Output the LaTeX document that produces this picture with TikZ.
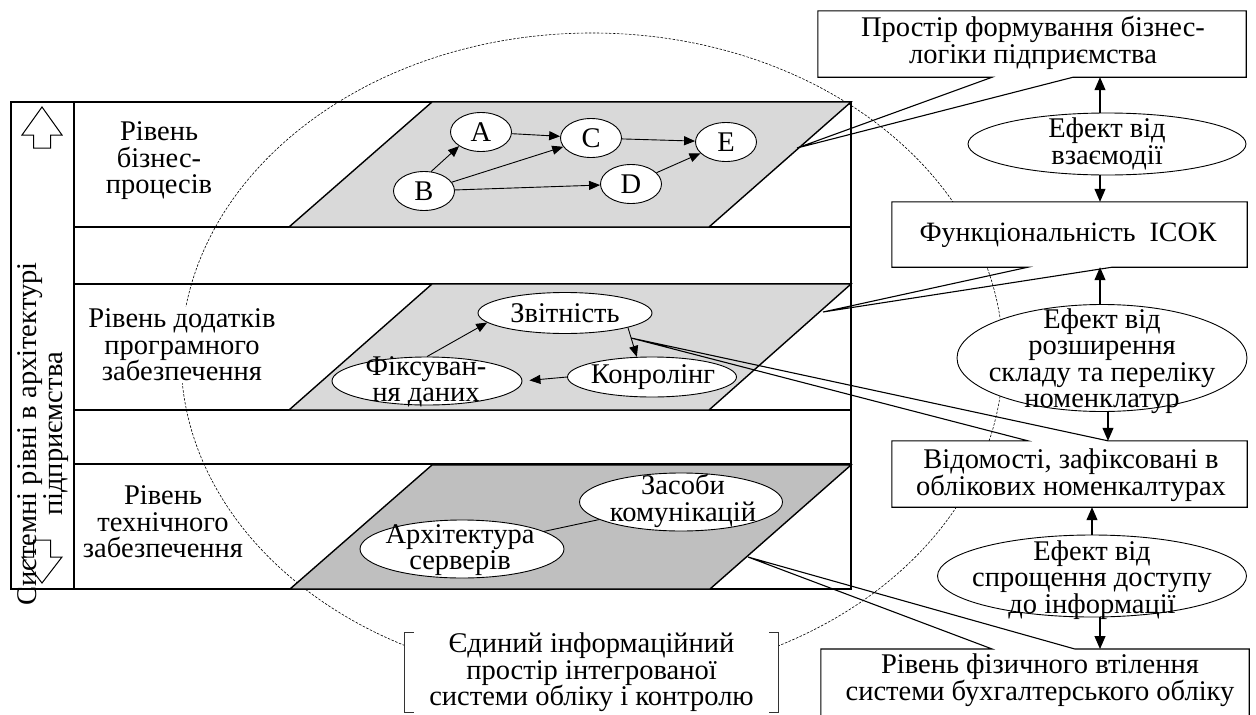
\documentclass[tikz,border=0pt]{standalone}
\usepackage{fontspec}
\setmainfont{Liberation Serif}
\usetikzlibrary{arrows.meta,shapes.geometric,calc}
\definecolor{planeL}{gray}{0.85}
\definecolor{planeD}{gray}{0.75}
\begin{document}
\begin{tikzpicture}[x=1pt,y=-1pt,
  txt/.style={font=\fontsize{28.5}{26.5}\selectfont, align=center, inner sep=0pt},
  frameline/.style={line width=1.4pt},
  plane/.style={draw, line width=1.4pt, line join=miter},
  ell/.style={draw, ellipse, fill=white, line width=0.9pt, inner sep=0pt},
  sm/.style={ell, minimum width=61pt, minimum height=39pt, font=\fontsize{28.5}{26.5}\selectfont},
  arr/.style={-{Triangle[length=11pt,width=9pt]}, line width=0.9pt},
  rarr/.style={-{Triangle[length=13pt,width=11pt]}, line width=1.1pt},
  boxfill/.style={fill=white, draw=none, inner sep=0pt},
  boxline/.style={line width=1.1pt, line join=miter},
  circ/.style={dash pattern=on 2.5pt off 1.5pt, line width=0.6pt},
  blockarrow/.style={draw, fill=white, line width=1pt},
  brack/.style={line width=0.9pt, draw=black!80},
]
\useasboundingbox (0,0) rectangle (1256,715);
\clip (0,0) rectangle (1256,715);
\fill[white] (0,0) rectangle (1256,715);

% dashed circle of the unified information space
\draw[circ] (592,357) ellipse [x radius=411pt, y radius=324pt];

% frame of levels
\draw[frameline] (11,102) rectangle (851,589);
\draw[frameline] (74,102) -- (74,589);
\foreach \yy in {227,284,410,464} \draw[frameline] (74,\yy) -- (851,\yy);

% planes
\draw[plane, fill=planeL] (432,102) -- (851,102) -- (709,227) -- (289,227) -- cycle;
\draw[plane, fill=planeL] (432,284) -- (851,284) -- (709,410) -- (289,410) -- cycle;
\draw[plane, fill=planeD] (432,465) -- (851,465) -- (710,589) -- (290,589) -- cycle;

% block arrows in left column
\draw[blockarrow] (42,107) -- (62,135) -- (50.5,135) -- (50.5,148) -- (33.5,148) -- (33.5,135) -- (22,135) -- cycle;
\draw[blockarrow] (33.5,540) -- (50.5,540) -- (50.5,557) -- (62,557) -- (42,583) -- (22,557) -- (33.5,557) -- cycle;

% level labels
\node[txt] (l1) at (159,161) {Рівень\\бізнес-\\процесів};
\node[txt, fill=white, inner sep=2pt] (l2) at (182,345) {Рівень додатків\\програмного\\забезпечення};
\node[txt] (l3) at (163,522) {Рівень\\технічного\\забезпечення};
\node[txt, rotate=90, font=\fontsize{28.5}{25.5}\selectfont] (vt) at (43,434) {Системні рівні в архітектурі\\підприємства};

% business process plane
\node[sm] (A) at (481,132) {A};
\node[sm] (C) at (591,138) {C};
\node[sm] (E) at (726,142) {E};
\node[sm] (B) at (424,191) {B};
\node[sm] (D) at (631,184) {D};
\draw[arr] (A) -- (C);
\draw[arr] (C) -- (E);
\draw[arr] (B.70) -- (A.south west);
\draw[arr] (B) -- (C);
\draw[arr] (B) -- (D);
\draw[arr] (D) -- (E);

% application plane
\node[ell, minimum width=174pt, minimum height=41pt] (zvit) at (565,313) {};
\node[txt] (zvitT) at (565,313) {Звітність};
\node[ell, minimum width=169pt, minimum height=40pt] (kon) at (652,377) {};
\node[txt] (konT) at (653,377) {Конролінг};
\node[ell, minimum width=190pt, minimum height=48pt] (fix) at (427,381) {};
\node[txt] (fixT) at (426,382) {Фіксуван-\\ня даних};
\draw[arr] (fix.north) -- (zvit.187);
\draw[arr] (zvit.-13) -- (kon.127);
\draw[arr, shorten >=7pt] (kon.west) -- (fix.east);

% technical plane
\node[ell, minimum width=203pt, minimum height=58pt] (zas) at (681,502) {};
\node[txt] (zasT) at (683,501) {Засоби\\комунікацій};
\node[ell, minimum width=204pt, minimum height=58pt] (arch) at (462,549) {};
\node[txt] (archT) at (460,550) {Архітектура\\серверів};
\draw[line width=0.9pt] (arch) -- (zas);

% callout tips
\coordinate (t1) at (797,148);
\coordinate (t2) at (823,312);
\coordinate (t3) at (631,338);
\coordinate (t4) at (748,557);

% right column boxes with callouts
\node[boxfill, minimum width=428pt, minimum height=66pt] (b1) at (1032,44) {};
\node[txt] (b1T) at (1033,43) {Простір формування бізнес-\\логіки підприємства};
\draw[boxline] (b1.north west) -- (b1.north east) -- (b1.south east)
  -- ($(b1.south west)!0.596!(b1.south east)$) -- (t1)
  -- ($(b1.south west)!0.407!(b1.south east)$) -- (b1.south west) -- cycle;

\node[boxfill, minimum width=355pt, minimum height=65pt] (b2) at (1069.5,234.5) {};
\node[txt, font=\fontsize{28}{26.5}\selectfont] (b2T) at (1068,235) {Функціональність~ ІСОК};
\draw[boxline] (b2.north west) -- (b2.north east) -- (b2.south east)
  -- ($(b2.south west)!0.62!(b2.south east)$) -- (t2)
  -- ($(b2.south west)!0.383!(b2.south east)$) -- (b2.south west) -- cycle;

\node[boxfill, minimum width=355pt, minimum height=66pt] (b3) at (1069.5,474) {};
\node[txt] (b3T) at (1071,475) {Відомості, зафіксовані в\\облікових номенкалтурах};
\draw[boxline] (b3.south west) -- (b3.north west)
  -- ($(b3.north west)!0.383!(b3.north east)$) -- (t3)
  -- ($(b3.north west)!0.608!(b3.north east)$) -- (b3.north east) -- (b3.south east) -- cycle;

\node[boxfill, minimum width=428pt, minimum height=90pt, anchor=north] (b4) at (1035,649) {};
\node[txt] (b4T) at (1040,680) {Рівень фізичного втілення\\системи бухгалтерського обліку};
\draw[boxline] (b4.south west) -- (b4.north west)
  -- ($(b4.north west)!0.40!(b4.north east)$) -- (t4)
  -- ($(b4.north west)!0.593!(b4.north east)$) -- (b4.north east) -- (b4.south east) -- cycle;

% effect ellipses
\node[ell, minimum width=278pt, minimum height=62pt] (e1) at (1107,144) {};
\node[txt] (e1T) at (1107,144) {Ефект від\\взаємодії};
\node[ell, minimum width=290pt, minimum height=107pt] (e2) at (1102,358) {};
\node[txt] (e2T) at (1102,361) {Ефект від\\розширення\\складу та переліку\\номенклатур};
\node[ell, minimum width=309pt, minimum height=82pt] (e3) at (1092,576) {};
\node[txt] (e3T) at (1092,580) {Ефект від\\спрощення доступу\\до інформації};

% vertical arrows
\coordinate (xa) at (1100,0);
\coordinate (xb) at (1108,0);
\coordinate (xc) at (1092,0);
\draw[rarr] (e1.north -| xa) -- (b1.south -| xa);
\draw[rarr] (e1.south -| xa) -- (b2.north -| xa);
\draw[rarr] (e2.north -| xa) -- (b2.south -| xa);
\draw[rarr] (e2.south -| xb) -- (b3.north -| xb);
\draw[rarr] (e3.north -| xc) -- (b3.south -| xc);
\draw[rarr] (e3.south -| xa) -- (b4.north -| xa);

% unified information space label
\node[txt, fill=white, minimum width=373pt, minimum height=75pt] (brk) at (591.5,672.5)
  {Єдиний інформаційний\\простір інтегрованої\\системи обліку і контролю};
\draw[brack] ($(brk.north west)+(9,0)$) -- (brk.north west) -- (brk.south west) -- ($(brk.south west)+(9,0)$);
\draw[brack] ($(brk.north east)+(-9,0)$) -- (brk.north east) -- (brk.south east) -- ($(brk.south east)+(-9,0)$);
\end{tikzpicture}
\end{document}
